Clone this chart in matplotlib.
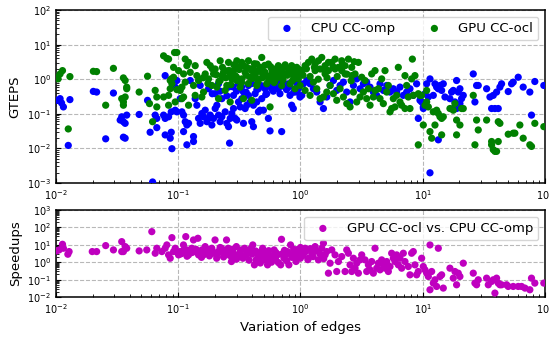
import matplotlib
matplotlib.use("Agg")
import matplotlib.pyplot as plt
from matplotlib.ticker import LogLocator, NullFormatter

# ---------------- data ----------------
cpu_x = [
    0.0101, 0.0108, 0.0111, 0.0115, 0.0130, 0.0126, 0.0202, 0.0215, 0.0295, 0.0255,
    0.0356, 0.0368, 0.0335, 0.0345, 0.0368, 0.0356, 0.0379, 0.0479, 0.0561, 0.0589,
    0.0617, 0.0648, 0.0668, 0.0759, 0.0782, 0.0834, 0.0877, 0.0668, 0.0782, 0.0877,
    0.0860, 0.0888, 0.0782, 0.0916, 0.0945, 0.0945, 0.0975,
    0.0975, 0.1038, 0.1072, 0.1106, 0.1141, 0.1177, 0.1106, 0.1215, 0.1177, 0.1334,
    0.1334, 0.1377, 0.1421, 0.1466, 0.1513, 0.1561, 0.1611, 0.1663, 0.1715, 0.1770,
    0.1827, 0.1885, 0.1945, 0.2007, 0.2071, 0.2137, 0.2205, 0.2275, 0.2422, 0.2499,
    0.2579, 0.2630, 0.2661, 0.2745, 0.2833, 0.2923, 0.3016, 0.3112, 0.3211, 0.3313,
    0.3418, 0.3527, 0.3639, 0.3755, 0.3874, 0.3997, 0.4124, 0.4256, 0.4391, 0.4531,
    0.4675, 0.4823, 0.4977, 0.5135, 0.5298, 0.5467, 0.5640, 0.5820, 0.6196, 0.6596,
    0.7022, 0.7476, 0.8212, 0.8474, 0.8743, 0.9308, 0.9605, 0.9910,
    0.1254, 0.1513, 0.1770, 0.2137, 0.2579, 0.3112, 0.3755, 0.4531, 0.5467, 0.6596,
    0.7959, 0.9605, 0.2275, 0.2833, 0.3418, 0.4124, 0.2007,
    0.30, 0.33, 0.36, 0.40, 0.44, 0.48, 0.52, 0.56, 0.60, 0.64,
    0.68, 0.72, 0.77, 0.82, 0.88, 0.93, 0.25, 0.22, 0.19, 0.28,
    0.963, 1.025, 1.058, 1.127, 1.199, 1.277, 1.360, 1.448, 1.542, 1.642,
    1.748, 1.861, 1.981, 2.110, 2.246, 2.392, 2.547, 2.712, 2.887, 3.074,
    3.273, 3.485, 3.710, 3.950, 4.206, 4.478, 4.768, 5.077, 5.405, 5.755,
    6.127, 6.524, 6.946, 7.395, 7.874, 8.383, 8.926, 9.504, 9.210, 10.12,
    9.81, 10.13, 10.45, 10.78, 11.13, 11.48, 12.22, 12.61, 13.01, 13.43,
    13.86, 14.30, 14.75, 13.43, 15.22, 16.72, 17.25, 17.80, 18.37, 18.95,
    18.95, 19.56, 20.18, 20.82, 21.49, 20.18, 17.80, 25.94, 26.77, 27.62,
    28.50, 33.36, 35.52, 36.65, 37.81, 39.01, 40.26, 41.54, 42.86, 44.22,
    50.13, 53.38, 55.08, 60.50, 66.45, 75.32, 77.72, 82.74, 98.0, 11.48,
]
cpu_gteps = [
    0.245, 0.274, 0.206, 0.158, 0.257, 0.0122, 0.444, 0.425, 0.398, 0.0189,
    0.0211, 0.0197, 0.0659, 0.082, 0.053, 0.059, 0.0916, 0.0957, 0.245, 0.0293,
    0.00107, 0.0916, 0.0736, 0.0916, 0.0736, 0.082, 0.114, 0.0398, 0.0245, 0.0293,
    0.0197, 0.0098, 1.27, 1.02, 0.59, 0.127, 0.114,
    0.916, 0.274, 0.114, 0.0916, 0.0591, 0.0474, 0.0306, 0.0530, 0.0127, 0.0220,
    0.0158, 0.274, 0.177, 0.0736, 0.0530, 0.102, 0.0821, 0.127, 0.0591, 0.0736,
    0.0916, 0.0474, 0.0736, 0.142, 0.177, 0.0916, 0.0591, 0.0821, 0.114, 0.0530,
    0.0425, 0.0142, 0.0736, 0.102, 0.142, 0.0736, 0.0659, 0.220, 0.158, 0.274,
    0.0530, 0.142, 0.177, 0.341, 0.220, 0.0591, 0.0425, 0.381, 0.220, 0.114,
    0.127, 0.274, 0.127, 0.530, 0.381, 0.0736, 0.0320, 0.530, 0.736, 0.530,
    0.0306, 0.591, 0.341, 0.177, 0.142, 0.425, 0.591, 0.306,
    0.916, 0.659, 0.530, 0.736, 0.591, 0.736, 0.659, 0.530, 0.659, 0.821,
    0.736, 0.821, 0.274, 0.341, 0.425, 0.177, 0.381,
    0.45, 0.60, 0.42, 0.75, 0.50, 0.65, 0.36, 0.80, 0.45, 0.62,
    0.38, 0.72, 0.50, 0.62, 0.42, 0.78, 0.33, 0.45, 0.38, 0.60,
    0.530, 0.341, 0.736, 0.916, 0.736, 0.530, 0.425, 0.220, 0.142, 0.306,
    0.659, 0.916, 0.474, 0.659, 0.821, 0.425, 0.220, 0.659, 1.02, 0.530,
    0.736, 0.821, 0.591, 0.425, 0.341, 0.736, 0.474, 0.659, 0.425, 0.530,
    0.425, 0.591, 0.341, 0.425, 0.530, 0.341, 0.736, 0.246, 0.0736, 0.158,
    0.220, 0.142, 0.381, 0.736, 0.306, 1.02, 0.341, 0.736, 0.591, 0.530,
    0.659, 0.474, 0.736, 0.0177, 0.306, 0.274, 0.425, 0.474, 0.220, 0.916,
    0.142, 0.425, 0.530, 0.274, 0.341, 0.197, 0.142, 1.42, 0.220, 0.659,
    0.659, 0.530, 0.306, 0.142, 0.341, 0.142, 0.425, 0.142, 0.591, 0.736,
    0.44, 0.736, 0.821, 1.14, 0.591, 0.425, 0.0916, 0.858, 0.659, 0.00197,
]

gpu_x = [
    0.0104, 0.0108, 0.0113, 0.0103, 0.0130, 0.0126, 0.0202, 0.0215, 0.0295, 0.0356,
    0.0368, 0.0379, 0.0379, 0.0345, 0.0356, 0.0368, 0.0356, 0.0255, 0.0479, 0.0561,
    0.0582, 0.0617, 0.0648, 0.0668, 0.0759, 0.0834, 0.0668, 0.0759, 0.0807, 0.0834,
    0.0933, 0.0916, 0.0877, 0.0888, 0.0860, 0.0834, 0.0975, 0.0945, 0.0860, 0.0916,
    0.0975, 0.1141, 0.1215, 0.1177, 0.1377, 0.1006, 0.1106, 0.1141, 0.1072, 0.1038,
    0.1106, 0.1072, 0.1215, 0.1334, 0.1377, 0.1421, 0.1466, 0.1561, 0.1611, 0.1663,
    0.1715, 0.1770, 0.1827, 0.1885, 0.2007, 0.2071, 0.2137, 0.2205, 0.2275, 0.2348,
    0.2422, 0.2499, 0.2579, 0.2661, 0.2745, 0.2833, 0.2923, 0.3016, 0.3112, 0.3211,
    0.3313, 0.3418, 0.3527, 0.3639, 0.3755, 0.3874, 0.3997, 0.4124, 0.4256, 0.4391,
    0.4531, 0.4675, 0.4823, 0.4977, 0.5135, 0.5298, 0.5467, 0.5640, 0.5820, 0.6005,
    0.6196, 0.6393, 0.6596, 0.6806, 0.7022, 0.7246, 0.7476, 0.7959, 0.8212, 0.8474,
    0.8743, 0.9022, 0.9308, 0.9605, 0.9910,
    0.1254, 0.1945, 0.2422, 0.3016, 0.3997, 0.4823, 0.5820, 0.7022, 0.8474, 0.2205,
    0.4391, 0.6196, 0.3313, 0.2661,
    0.16, 0.175, 0.19, 0.205, 0.215, 0.23, 0.245, 0.26, 0.27, 0.285,
    0.30, 0.315, 0.33, 0.345, 0.36, 0.375, 0.39, 0.405, 0.42, 0.435,
    0.45, 0.47, 0.49, 0.51, 0.53, 0.55, 0.57, 0.59, 0.61, 0.63,
    0.66, 0.69, 0.72, 0.75, 0.78, 0.81, 0.86, 0.89, 0.94, 0.98,
    1.05, 1.12, 1.20, 1.30, 1.40, 1.55, 1.65, 1.85, 2.00, 2.20,
    2.40, 2.60, 2.75,
    0.933, 1.025, 1.162, 1.238, 1.318, 1.403, 1.494, 1.591, 1.694, 1.804,
    1.920, 2.045, 2.177, 2.318, 2.468, 2.628, 2.798, 2.979, 3.172, 3.377,
    3.596, 3.828, 4.076, 4.340, 4.621, 4.920, 5.238, 5.405, 5.577, 5.938,
    6.322, 6.731, 7.167, 7.395, 7.874, 8.125, 8.236, 8.383, 8.650, 9.210,
    9.504, 10.12, 9.210,
    0.994, 1.092, 1.199, 1.277, 1.360, 1.448, 1.542, 1.642, 1.748, 1.861,
    1.981, 2.110, 2.246, 2.392, 2.547, 2.712, 2.887, 3.074, 3.273, 3.485,
    3.710, 3.950, 4.076, 4.478, 4.768, 5.077, 5.755, 6.127, 6.524, 7.167,
    7.631,
    1.092, 1.318, 1.591, 1.920, 2.318, 1.694, 2.628, 1.448, 2.177,
    9.81, 10.45, 10.78, 10.78, 11.13, 11.48, 11.85, 12.22, 12.61, 13.01,
    13.43, 13.86, 14.30, 14.75, 14.30, 16.72, 17.80, 18.37, 18.95, 18.95,
    20.18, 20.82, 21.49, 25.94, 26.77, 27.62, 28.50, 33.36, 36.65, 36.65,
    37.81, 39.01, 40.26, 41.54, 42.86, 41.54, 50.13, 55.08, 56.83, 62.42,
    66.45, 75.32, 77.72, 82.74, 98.0,
]
gpu_gteps = [
    1.02, 1.42, 1.77, 1.14, 1.19, 0.0365, 1.69, 1.66, 2.06, 1.09,
    0.92, 0.59, 0.53, 0.274, 0.220, 0.306, 0.177, 0.177, 0.425, 1.22,
    0.197, 0.059, 0.474, 0.306, 0.306, 0.177, 0.158, 4.74, 3.98, 3.81,
    5.91, 2.2, 1.02, 0.74, 0.53, 0.341, 0.50, 0.22, 0.92, 1.14,
    5.91, 3.81, 3.06, 2.46, 2.46, 1.77, 1.42, 0.821, 0.591, 0.474,
    0.306, 0.274, 0.177, 0.659, 0.341, 1.27, 0.916, 0.306, 0.425, 1.42,
    3.06, 1.02, 2.46, 0.659, 1.97, 0.591, 0.274, 3.41, 1.27, 1.58,
    0.474, 0.659, 3.06, 0.220, 1.02, 1.77, 1.27, 3.41, 2.20, 0.591,
    3.06, 0.274, 1.58, 2.20, 3.41, 1.14, 0.246, 1.97, 1.42, 2.74,
    1.02, 2.20, 4.25, 1.27, 1.58, 0.736, 2.74, 0.158, 1.97, 1.14,
    0.916, 1.77, 2.46, 1.27, 0.659, 2.20, 1.42, 1.97, 0.736, 2.46,
    1.27, 0.530, 1.77, 1.02, 1.42,
    1.58, 1.42, 1.77, 0.916, 1.77, 1.58, 1.27, 1.97, 1.42, 0.916,
    0.659, 1.58, 1.02, 1.42,
    1.10, 0.75, 2.00, 1.35, 0.85, 2.20, 1.10, 1.80, 0.70, 2.60,
    1.15, 1.90, 0.80, 2.40, 1.30, 0.75, 2.00, 1.05, 2.80, 1.60,
    0.85, 2.10, 1.10, 2.50, 1.25, 0.90, 2.30, 1.60, 0.80, 2.00,
    1.15, 1.70, 0.95, 2.60, 1.30, 1.80, 0.90, 2.10, 1.20, 1.90,
    1.30, 2.00, 1.20, 2.20, 1.00, 1.90, 1.10, 2.30, 1.20, 2.60,
    1.40, 0.90, 3.20,
    2.20, 1.77, 3.06, 3.81, 2.74, 3.41, 4.25, 2.46, 1.77, 3.06,
    3.81, 2.20, 1.77, 2.46, 3.81, 2.20, 1.42, 3.06, 1.14, 0.916,
    0.530, 1.42, 1.77, 0.530, 1.02, 1.77, 0.659, 0.114, 0.142, 0.158,
    2.20, 0.177, 1.27, 0.659, 0.142, 1.02, 3.81, 0.341, 1.27, 0.381,
    0.341, 0.0474, 0.0127,
    0.659, 0.474, 0.341, 0.821, 0.530, 0.274, 0.306, 0.425, 0.659, 0.381,
    0.246, 0.530, 0.306, 0.197, 0.158, 0.425, 0.220, 0.306, 0.425, 0.274,
    0.177, 0.306, 0.474, 0.274, 0.197, 0.425, 0.274, 0.341, 0.220, 0.142,
    0.306,
    2.46, 1.77, 1.42, 1.97, 1.42, 3.06, 1.27, 1.97, 3.41,
    0.341, 0.177, 0.474, 0.220, 0.158, 0.0306, 0.0197, 0.114, 0.0474, 0.127,
    0.102, 0.0821, 0.0736, 0.0821, 0.0246, 0.142, 0.127, 0.197, 0.0659, 0.0246,
    0.0474, 0.142, 0.142, 0.341, 0.0127, 0.0659, 0.0341, 0.0659, 0.0158, 0.0127,
    0.0092, 0.0082, 0.0082, 0.0158, 0.0530, 0.0591, 0.0257, 0.0275, 0.0275, 0.0474,
    0.0197, 0.0127, 0.0114, 0.0530, 0.0425,
]

speedup_x = [
    0.0101, 0.0106, 0.0113, 0.0115, 0.0125, 0.0128, 0.0198, 0.0215, 0.0255, 0.0295,
    0.0345, 0.0356, 0.0368, 0.0379, 0.0345, 0.0479, 0.0553, 0.0608, 0.0648, 0.0668,
    0.0735, 0.0782, 0.0807, 0.0834, 0.0860, 0.0888, 0.0916, 0.0945, 0.1006, 0.1038,
    0.1104, 0.1153, 0.1175, 0.1215, 0.1292, 0.1333, 0.1379, 0.1449, 0.1467, 0.1563,
    0.1662, 0.1768, 0.1881, 0.2001, 0.2064, 0.2129, 0.2264, 0.2408, 0.2484, 0.2562,
    0.2726, 0.2811, 0.2990, 0.3084, 0.3281, 0.3384, 0.3490, 0.3713, 0.3950, 0.4074,
    0.4202, 0.4470, 0.4610, 0.4755, 0.4904, 0.5058, 0.5381, 0.5381, 0.5724, 0.6089,
    0.6478, 0.6891, 0.6999, 0.7331, 0.7799, 0.8043, 0.8296, 0.8825, 0.9389, 0.9988,
    1.03,
    0.107, 0.125, 0.161, 0.194, 0.233, 0.290, 0.360, 0.433, 0.555, 0.628,
    0.756, 0.910,
    0.105, 0.112, 0.118, 0.130, 0.140, 0.150, 0.155, 0.170, 0.180, 0.190,
    0.210, 0.220, 0.235, 0.250, 0.265, 0.280, 0.300, 0.320, 0.340, 0.360,
    0.380, 0.400, 0.430, 0.450, 0.470, 0.500, 0.520, 0.550, 0.580, 0.600,
    0.630, 0.660, 0.700, 0.740, 0.770, 0.800, 0.850, 0.880, 0.920, 0.960,
    1.00, 1.05, 1.10, 1.15, 1.20, 1.27, 1.35, 1.45, 1.55,
    0.933, 0.963, 1.025, 1.092, 1.162, 1.238, 1.318, 1.403, 1.494, 1.542,
    1.591, 1.642, 1.694, 1.748, 1.804, 1.920, 1.981, 2.045, 2.177, 2.318,
    2.392, 2.468, 2.547, 2.628, 2.712, 2.798, 2.887, 2.979, 3.074, 3.172,
    3.377, 3.485, 3.596, 3.710, 3.828, 3.950, 4.076, 4.206, 4.340, 4.478,
    4.621, 4.768, 4.920, 5.077, 5.238, 5.405, 5.577, 5.755, 5.938, 6.127,
    6.322, 6.524, 6.731, 6.946, 7.167, 7.631, 7.874, 8.125, 8.383, 8.650,
    8.926, 9.210, 9.81, 10.12, 10.45, 10.78, 11.13, 11.48, 11.48, 11.85,
    12.22, 12.61, 13.01, 13.43, 13.86, 14.30, 14.75, 16.72, 17.80, 18.37,
    18.95, 19.56, 20.18, 21.49, 25.94, 26.77, 27.62, 28.50, 33.36, 34.43,
    36.65, 37.81, 39.01, 40.26, 41.54, 42.86, 44.22, 48.59, 50.13, 55.08,
    60.50, 64.42, 68.7, 75.32, 77.72, 82.74, 98.0,
]
speedup_y = [
    4.46, 5.08, 10.7, 6.33, 2.87, 4.08, 4.08, 4.08, 9.0, 5.08,
    15.2, 4.08, 7.89, 6.33, 4.08, 4.46, 5.08, 57.0, 3.27, 6.33,
    4.08, 6.33, 9.83, 2.63, 1.69, 25.8, 4.08, 6.33, 2.63, 4.08,
    9.83, 29.5, 5.08, 2.63, 6.33, 19.0, 4.08, 23.7, 2.63, 5.08,
    7.89, 4.08, 6.33, 19.0, 1.69, 4.08, 6.33, 2.63, 19.0, 6.33,
    1.09, 3.27, 7.89, 2.63, 5.08, 1.69, 6.33, 3.27, 6.33, 9.83,
    0.703, 2.63, 1.36, 4.08, 6.33, 2.11, 3.27, 0.703, 1.69, 5.08,
    2.63, 0.703, 20.7, 1.69, 4.08, 0.703, 9.83, 2.63, 5.08, 1.69,
    4.08,
    3.27, 4.08, 2.63, 3.27, 4.08, 1.69, 2.63, 1.36, 2.63, 1.36,
    2.63, 2.63,
    3.0, 5.5, 2.2, 3.6, 5.5, 3.0, 1.9, 5.8, 2.3, 4.5,
    3.0, 7.0, 2.0, 4.2, 2.4, 5.6, 1.5, 3.8, 2.2, 4.8,
    1.3, 2.9, 4.4, 1.8, 0.9, 3.4, 1.3, 4.6, 1.0, 2.2,
    3.6, 0.95, 2.9, 4.8, 1.2, 3.3, 1.9, 5.5, 1.1, 3.1,
    7.0, 2.4, 4.0, 1.4, 6.0, 2.1, 4.4, 2.9, 1.6,
    5.08, 2.63, 4.08, 6.33, 1.69, 3.27, 7.89, 1.36, 6.33, 12.2,
    2.63, 4.08, 0.234, 0.877, 5.08, 2.63, 0.292, 1.09, 2.11, 0.292,
    5.08, 3.27, 0.703, 0.292, 1.69, 0.453, 0.877, 0.234, 1.36, 2.63,
    1.36, 0.292, 0.703, 0.364, 1.09, 0.234, 6.33, 0.453, 0.877, 0.364,
    1.36, 0.703, 0.453, 1.09, 0.292, 0.565, 3.27, 1.69, 1.09, 2.63,
    0.703, 1.69, 0.453, 3.27, 1.09, 0.565, 0.188, 3.27, 4.08, 0.703,
    0.188, 0.292, 1.69, 0.565, 0.364, 0.234, 0.151, 9.83, 0.0261, 0.292,
    0.0628, 0.0975, 0.0404, 6.33, 0.151, 0.188, 0.0325, 0.453, 0.121, 0.292,
    0.0504, 0.234, 0.151, 0.877, 0.234, 0.0628, 0.0504, 0.0975, 0.121, 0.0504,
    0.0782, 0.0975, 0.0168, 0.121, 0.0628, 0.0504, 0.0504, 0.0504, 0.0404, 0.0404,
    0.0404, 0.0404, 0.0325, 0.0261, 0.121, 0.0628, 0.0628,
]

series_labels = ["CPU CC-omp", "GPU CC-ocl", "GPU CC-ocl vs. CPU CC-omp"]

# ---------------- figure ----------------
plt.rcParams["font.family"] = ["DejaVu Sans"]
fig = plt.figure(figsize=(5.49, 3.38), dpi=100)
ax1 = fig.add_axes([0.102, 0.4586, 0.8905, 0.5118])
ax2 = fig.add_axes([0.102, 0.1213, 0.8905, 0.2574])

ms = 27
ax1.scatter(cpu_x, cpu_gteps, s=ms, c="b", edgecolors="none", label=series_labels[0], zorder=3)
ax1.scatter(gpu_x, gpu_gteps, s=ms, c="g", edgecolors="none", label=series_labels[1], zorder=3)
ax2.scatter(speedup_x, speedup_y, s=ms, c="m", edgecolors="none", label=series_labels[2], zorder=3)

for ax, (ylo, yhi), ylab in [(ax1, (1e-3, 1e2), "GTEPS"), (ax2, (1e-2, 1e3), "Speedups")]:
    ax.set_xscale("log")
    ax.set_yscale("log")
    ax.set_xlim(1e-2, 1e2)
    ax.set_ylim(ylo, yhi)
    ax.set_ylabel(ylab, fontsize=9.5)
    ax.grid(True, which="major", linestyle="--", color="0.72", linewidth=0.8, zorder=0)
    ax.set_axisbelow(True)
    ax.tick_params(which="both", direction="in", labelsize=7, top=False, right=False)
    ax.tick_params(which="major", length=3.5, width=0.8)
    ax.tick_params(which="minor", length=2, width=0.6)
    ax.yaxis.set_major_locator(LogLocator(base=10, numticks=10))
    ax.yaxis.set_minor_locator(LogLocator(base=10, subs=range(2, 10), numticks=10))
    ax.yaxis.set_minor_formatter(NullFormatter())
    for sp in ax.spines.values():
        sp.set_linewidth(1.1)

ax1.set_xticks([1e-2, 1e-1, 1e0, 1e1, 1e2])
ax2.set_xticks([1e-2, 1e-1, 1e0, 1e1, 1e2])
ax2.set_xlabel("Variation of edges", fontsize=9.5)

ax1.legend(loc="upper right", ncol=2, fontsize=9.5)
ax2.legend(loc="upper right", fontsize=9.5)

fig.savefig("out.png", dpi=100)
